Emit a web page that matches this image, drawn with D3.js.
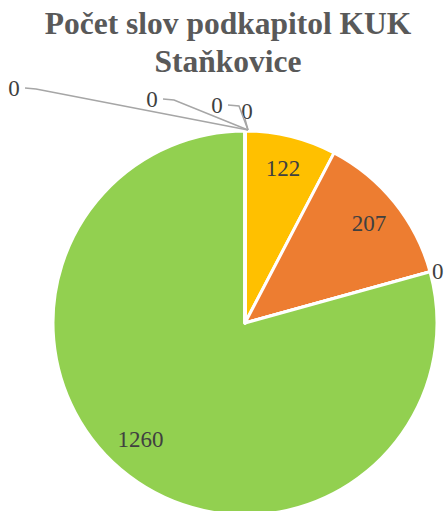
<!DOCTYPE html>
<html>
<head>
<meta charset="utf-8">
<script src="https://cdn.jsdelivr.net/npm/d3@7"></script>
<style>
  html, body { margin: 0; padding: 0; background: #fff; }
  svg { display: block; }
  text { font-family: 'Liberation Serif', 'Times New Roman', Tinos, serif; }
</style>
</head>
<body>
<div id="chart"></div>
<script>
// Data
const categories = ['Podkapitola 1', 'Podkapitola 2', 'Podkapitola 3', 'Podkapitola 4',
                    'Podkapitola 5', 'Podkapitola 6', 'Podkapitola 7', 'Podkapitola 8'];
const values = [122, 207, 0, 1260, 0, 0, 0, 0];
const colors = ['#FFC000', '#ED7D31', '#A5A5A5', '#92D050', '#4472C4', '#5B9BD5', '#70AD47', '#264478'];
const titleLines = ['Počet slov podkapitol KUK', 'Staňkovice'];

const W = 445, H = 511;
const cx = 245, cy = 323, R = 192;

const svg = d3.select('#chart').append('svg')
    .attr('width', W)
    .attr('height', H);

// Title
svg.append('text')
    .attr('x', 228)
    .attr('y', 34)
    .attr('text-anchor', 'middle')
    .attr('fill', '#595959')
    .style('font-weight', 'bold')
    .style('font-size', '31.5px')
    .selectAll('tspan')
    .data(titleLines)
    .enter()
    .append('tspan')
    .attr('x', 228)
    .attr('dy', (d, i) => i === 0 ? 0 : 38)
    .text(d => d);

const pie = d3.pie().sort(null).value(d => d.value);
const data = categories.map((c, i) => ({ name: c, value: values[i], color: colors[i] }));
const arcs = pie(data);

const arc = d3.arc().innerRadius(0).outerRadius(R);
const labelArc = d3.arc().innerRadius(R * 0.83).outerRadius(R * 0.83);

const g = svg.append('g').attr('transform', `translate(${cx},${cy})`);

g.selectAll('path.slice')
    .data(arcs)
    .enter()
    .append('path')
    .attr('class', 'slice')
    .attr('d', arc)
    .attr('fill', d => d.data.color)
    .attr('stroke', '#fff')
    .attr('stroke-width', 3)
    .attr('stroke-linejoin', 'round');

// Inside labels for non-zero slices (best-fit nudge for the big one)
g.selectAll('text.inner')
    .data(arcs.filter(d => d.data.value > 0))
    .enter()
    .append('text')
    .attr('class', 'inner')
    .attr('transform', d => {
        const [x, y] = labelArc.centroid(d);
        const big = d.endAngle - d.startAngle > Math.PI;
        return `translate(${big ? x - 8 : x},${big ? y - 11 : y})`;
    })
    .attr('text-anchor', 'middle')
    .attr('dy', '0.35em')
    .attr('fill', '#404040')
    .style('font-size', '23px')
    .text(d => d.data.value);

// Zero slices: labels outside
const zeros = arcs.filter(d => d.data.value === 0);

// The lone zero between orange and green sits just outside the rim
const sideZero = zeros.filter(d => d.startAngle < Math.PI);
g.selectAll('text.side')
    .data(sideZero)
    .enter()
    .append('text')
    .attr('class', 'side')
    .attr('x', d => Math.sin(d.startAngle) * (R + 2))
    .attr('y', d => -Math.cos(d.startAngle) * (R + 2))
    .attr('dy', '0.35em')
    .attr('fill', '#404040')
    .style('font-size', '23px')
    .text(d => d.data.value);

// The zeros at 12 o'clock are pushed up-left, each with a leader line
const topZero = zeros.filter(d => d.startAngle >= Math.PI);
const spreadX = [2, -28, -93, -231];
const spreadY = [-210, -218, -224, -235];
const anchorPt = [3, -R - 1];

const leaders = g.selectAll('g.leader')
    .data(topZero)
    .enter()
    .append('g')
    .attr('class', 'leader');

leaders.append('polyline')
    .attr('points', (d, i) => {
        const lx = spreadX[i], ly = spreadY[i];
        if (i === 0) return [[lx - 2, ly + 6], anchorPt].join(' ');
        return [[lx + 11, ly], [lx + 22, ly + 1], anchorPt].join(' ');
    })
    .attr('fill', 'none')
    .attr('stroke', '#A6A6A6')
    .attr('stroke-width', 1.5);

leaders.append('text')
    .attr('x', (d, i) => spreadX[i])
    .attr('y', (d, i) => i === 0 ? spreadY[i] - 2 : spreadY[i])
    .attr('text-anchor', 'middle')
    .attr('dy', '0.35em')
    .attr('fill', '#404040')
    .style('font-size', '23px')
    .text(d => d.data.value);
</script>
</body>
</html>
